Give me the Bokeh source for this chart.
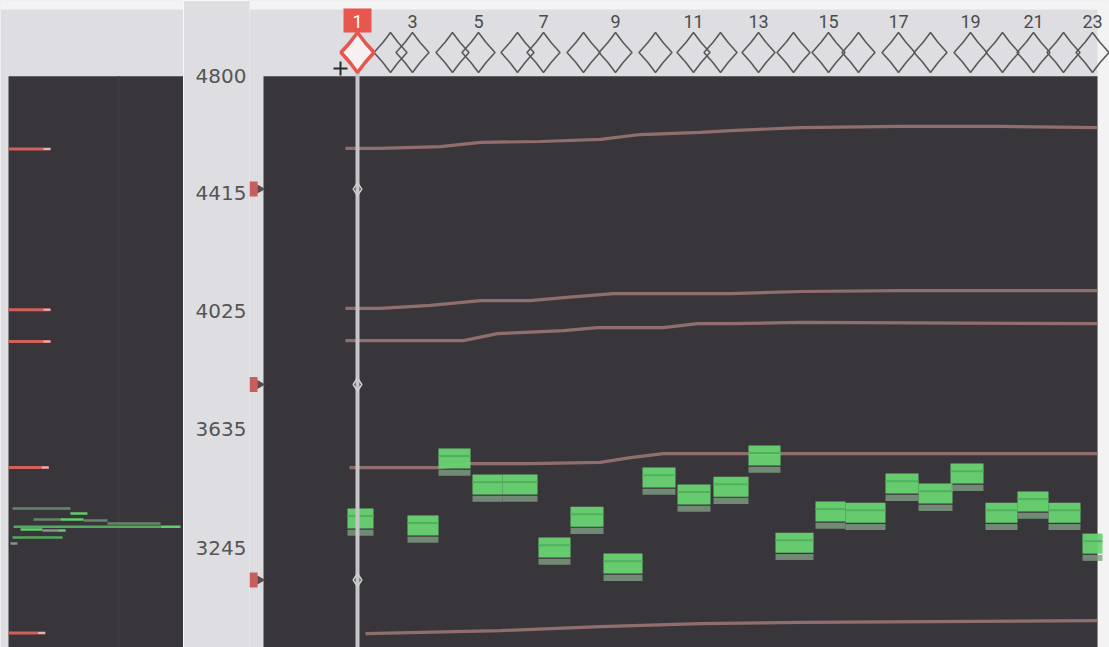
import math
from bokeh.plotting import figure
from bokeh.layouts import row
from bokeh.models import Range1d, LinearAxis, FixedTicker, BoxAnnotation
from bokeh.core.properties import value
from bokeh.embed import file_html
from bokeh.resources import INLINE

# ---------------------------------------------------------------- data
# frequency axis ticks (Hz)
y_ticks = [4800, 4415, 4025, 3635, 3245]
# reference marks on the frequency axis (Hz)
ref_marks = [4428, 3783, 3138]

# note slots along the timeline (s) and their numbers
slot_t = [0.00, 0.33, 0.55, 0.95, 1.21, 1.60, 1.86, 2.26, 2.58, 2.98, 3.36, 3.63,
          4.01, 4.36, 4.71, 5.01, 5.41, 5.73, 6.13, 6.45, 6.76, 7.06, 7.35]
slot_labels = ["1", "3", "5", "7", "9", "11", "13", "15", "17", "19", "21", "23"]

# detected pitch segments: start, end (s) and centre frequency (Hz)
seg_start = [-0.10, 0.50, 0.81, 1.15, 1.45, 1.81, 2.13, 2.46, 2.85, 3.20, 3.56,
             3.91, 4.18, 4.58, 4.88, 5.28, 5.61, 5.93, 6.28, 6.60, 6.91, 7.25]
seg_end = [0.16, 0.81, 1.13, 1.45, 1.80, 2.13, 2.46, 2.85, 3.18, 3.53, 3.91,
           4.23, 4.56, 4.88, 5.28, 5.61, 5.95, 6.26, 6.60, 6.91, 7.23, 7.45]
seg_hz = [3328, 3305, 3526, 3440, 3440, 3232, 3334, 3179, 3463, 3407, 3433,
          3536, 3248, 3351, 3347, 3443, 3410, 3476, 3347, 3384, 3347, 3245]

# resonance tracks (time s, frequency Hz)
track_a_t = [-0.12, 0.23, 0.83, 1.23, 1.83, 2.43, 2.83, 3.43, 3.73, 4.43, 5.43, 6.43, 7.40]
track_a_hz = [4562, 4562, 4568, 4582, 4585, 4592, 4608, 4615, 4621, 4631, 4635, 4635, 4631]
track_b_t = [-0.12, 0.23, 0.73, 1.23, 1.73, 2.06, 2.56, 3.73, 4.43, 5.43, 7.40]
track_b_hz = [4034, 4034, 4044, 4060, 4060, 4070, 4083, 4083, 4090, 4093, 4093]
track_c_t = [-0.12, 1.06, 1.40, 2.06, 2.40, 3.06, 3.40, 3.73, 4.43, 7.40]
track_c_hz = [3928, 3928, 3951, 3961, 3971, 3971, 3984, 3984, 3988, 3984]
track_d_t = [-0.08, 0.83, 1.13, 1.73, 2.43, 2.73, 3.06, 7.40]
track_d_hz = [3509, 3509, 3522, 3522, 3526, 3542, 3555, 3555]
track_e_t = [0.08, 1.43, 2.43, 3.43, 4.43, 7.40]
track_e_hz = [2961, 2971, 2984, 2994, 2998, 3004]

# side spectrum: resonance levels at the cursor (Hz) and their strength
peak_hz = [4560, 4030, 3925, 3509, 2963]
peak_len = [24, 24, 24, 23, 21]

# side spectrum: pitch histogram strokes (Hz, from, to, intensity class)
hist_hz = [3374, 3357, 3338, 3338, 3334, 3324, 3314, 3314, 3305, 3301, 3301, 3278, 3258]
hist_from = [2.3, 35.4, 14.3, 29.7, 42.9, 56.6, 2.9, 86.9, 6.9, 19.4, 28.0, 2.3, 1.1]
hist_to = [35.4, 45.1, 29.7, 42.9, 56.6, 86.9, 86.9, 98.3, 19.4, 28.0, 32.6, 30.9, 5.1]
hist_kind = ["dim", "bright", "dim", "bright", "dim", "dim", "mid", "bright",
             "bright", "grey", "bright", "mid", "grey"]

# ---------------------------------------------------------------- geometry / style
W, H = 1109, 647
HZ_PER_PX = 3.3
HZ_ROW0 = 4024 + 311 * HZ_PER_PX          # frequency at the top pixel row
PX_PER_S = 100.0
CURSOR_X = 357                            # pixel column of t = 0


def row_hz(r):
    return HZ_ROW0 - r * HZ_PER_PX


def col_t(x):
    return (x - CURSOR_X) / PX_PER_S


HEADER = "#dedee2"
PANEL = "#38363b"
WHITE = "#f3f3f4"
TRACK = "#937270"
GREEN = "#68d472"
GREEN_LINE = "#52b05d"
GREEN_PALE = "#7f9f84"
HIST_COL = {"bright": "#5fcf68", "mid": "#55a95e", "dim": "#66866a", "grey": "#899290"}

y_range = Range1d(row_hz(H), row_hz(0))


def box(**kw):
    return BoxAnnotation(fill_alpha=1, line_color=None, level="underlay", **kw)


# ---------------------------------------------------------------- side spectrum
LEFT_W = 183
side = figure(width=LEFT_W, height=H, x_range=Range1d(-8 / 1.75, (LEFT_W - 8) / 1.75),
              y_range=y_range, min_border=0, toolbar_location=None,
              output_backend="svg", x_axis_location=None, y_axis_location=None,
              outline_line_color=None, background_fill_color=HEADER,
              border_fill_color=HEADER)
side.xgrid.visible = False
side.ygrid.visible = False
side.add_layout(box(bottom=row_hz(9), fill_color=WHITE))
side.add_layout(box(left=0, top=4800, fill_color=PANEL))
side.segment(x0=[63], y0=[4800], x1=[63], y1=[row_hz(H)], line_color="#3f3d42", line_width=2)

side.segment(x0=[0] * len(peak_hz), y0=peak_hz, x1=peak_len, y1=peak_hz,
             line_color="#d2605c", line_width=3)
side.segment(x0=[v - 4 for v in peak_len], y0=peak_hz, x1=peak_len, y1=peak_hz,
             line_color="#cdbcbc", line_width=2)
side.segment(x0=hist_from, y0=hist_hz, x1=hist_to, y1=hist_hz,
             line_color=[HIST_COL[k] for k in hist_kind], line_width=2.5)

# ---------------------------------------------------------------- main timeline
MAIN_W = W - LEFT_W
AXIS_W = 66
x0_px = LEFT_W + AXIS_W
main = figure(width=MAIN_W, height=H, x_range=Range1d(col_t(x0_px), col_t(W)),
              y_range=y_range, min_border=0, min_border_left=AXIS_W,
              toolbar_location=None, output_backend="svg",
              x_axis_location=None, y_axis_location=None,
              outline_line_color=None, background_fill_color=HEADER,
              border_fill_color=HEADER)
main.xgrid.visible = False
main.ygrid.visible = False

yaxis = LinearAxis(ticker=FixedTicker(ticks=y_ticks), axis_line_color=None,
                   major_tick_line_color=None, minor_tick_line_color=None,
                   major_tick_out=0, major_tick_in=0, major_label_standoff=3,
                   major_label_text_font="DejaVu Sans",
                   major_label_text_font_size="20px",
                   major_label_text_color="#555555")
main.add_layout(yaxis, "left")

PANEL_L, PANEL_R = col_t(263), col_t(1097)
main.add_layout(box(bottom=row_hz(9), fill_color=WHITE))
main.add_layout(box(left=PANEL_R, fill_color=WHITE))
main.add_layout(box(left=PANEL_L, right=PANEL_R, top=4800, fill_color=PANEL))

# reference marks beside the panel
main.rect(x=[col_t(253)] * len(ref_marks), y=ref_marks, width=8, height=15,
          width_units="screen", height_units="screen",
          fill_color="#c85e5c", line_color=None)
main.scatter(x=[col_t(259.5)] * len(ref_marks), y=ref_marks, marker="triangle",
             angle=-math.pi / 2, size=9, fill_color="#5b4b4d", line_color=None)

# resonance tracks
for tt, hh in [(track_a_t, track_a_hz), (track_b_t, track_b_hz), (track_c_t, track_c_hz),
               (track_d_t, track_d_hz), (track_e_t, track_e_hz)]:
    main.line(tt, hh, line_color=TRACK, line_width=3.2, line_alpha=0.95)

# pitch segments, drawn as banded blocks
main.quad(left=seg_start, right=seg_end,
          top=[h + 46 for h in seg_hz], bottom=[h - 20 for h in seg_hz],
          fill_color=GREEN, fill_alpha=0.95, line_color=None)
main.segment(x0=seg_start, x1=seg_end, y0=[h + 21 for h in seg_hz], y1=[h + 21 for h in seg_hz],
             line_color=GREEN_LINE, line_width=2)
main.quad(left=seg_start, right=seg_end,
          top=[h - 24 for h in seg_hz], bottom=[h - 44 for h in seg_hz],
          fill_color=GREEN_PALE, fill_alpha=0.8, line_color=None)

# cursor line with its reference diamonds
main.segment(x0=[0], x1=[0], y0=[row_hz(72)], y1=[row_hz(H)],
             line_color="#c6c6ca", line_width=4)
main.scatter(x=[0] * len(ref_marks), y=ref_marks, marker="diamond", size=13,
             fill_color=None, line_color="#cfcfd2", line_width=1.5)

# slot diamonds along the header
HW = 16.5 / PX_PER_S
D_TOP, D_MID, D_BOT = row_hz(32), row_hz(52), row_hz(72)
pinch_x = 0.46 * HW
pinch_y = 0.5


def diamond_shape(t):
    up = D_MID + (D_TOP - D_MID) * pinch_y
    dn = D_MID - (D_MID - D_BOT) * pinch_y
    xs = [t, t + pinch_x, t + HW, t + pinch_x, t, t - pinch_x, t - HW, t - pinch_x]
    ys = [D_TOP, up, D_MID, dn, D_BOT, dn, D_MID, up]
    return xs, ys


shapes = [diamond_shape(t) for t in slot_t]
main.patches(xs=[s[0] for s in shapes[1:]], ys=[s[1] for s in shapes[1:]],
             fill_color=None, line_color="#595959", line_width=1.6)
main.patches(xs=[shapes[0][0]], ys=[shapes[0][1]],
             fill_color="#f6f1f1", line_color="#e2574f", line_width=3.5)

# slot numbers
label_t = slot_t[::2]
main.rect(x=[label_t[0]], y=[row_hz(20)], width=28, height=24,
          width_units="screen", height_units="screen",
          fill_color="#e8574d", line_color=None)
main.text(x=label_t, y=[row_hz(21)] * len(label_t), text=slot_labels,
          text_font=value("Roboto"), text_font_size="18px",
          text_align="center", text_baseline="middle",
          text_color=["#ffffff"] + ["#4a4a4a"] * (len(slot_labels) - 1))

# pointer cross
main.scatter(x=[col_t(340)], y=[row_hz(68)], marker="cross", size=14,
             line_color="#2a2a2a", line_width=2)

layout = row(side, main, spacing=0)
open("out.html", "w").write(file_html(layout, INLINE))
